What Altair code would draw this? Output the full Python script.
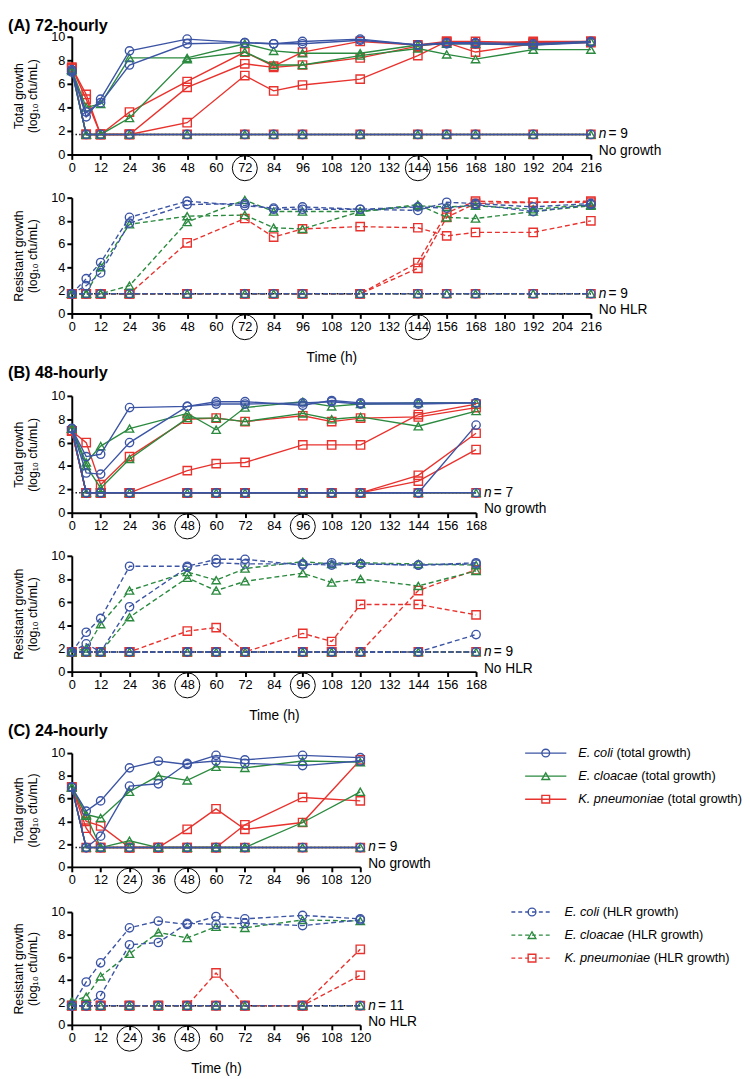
import altair as alt
import pandas as pd

# ---------------------------------------------------------------- data
L = 1.7  # limit of detection (log10 cfu/mL)

SPECIES = ["E. coli", "E. cloacae", "K. pneumoniae"]
COLORS = {"E. coli": "#3b54a4", "E. cloacae": "#2b8a3f", "K. pneumoniae": "#e8322d"}
SHAPES = {"E. coli": "circle", "E. cloacae": "triangle-up", "K. pneumoniae": "square"}
DRAW_ORDER = ["K. pneumoniae", "E. cloacae", "E. coli"]

# ---- (A) 72-hourly
A_TIMES = [0, 6, 12, 24, 48, 72, 84, 96, 120, 144, 156, 168, 192, 216]
A_DOSES = [72, 144]
A_TOTAL = {
    "E. coli": [
        [7.2, 3.2, 4.7, 8.8, 9.8, 9.5, 9.4, 9.6, 9.8, 9.3, 9.5, 9.5, 9.4, 9.6],
        [7.0, 3.6, 4.4, 7.6, 9.4, 9.5, 9.4, 9.4, 9.7, 9.3, 9.4, 9.4, 9.3, 9.5],
        [7.1, L, L, L, L, L, L, L, L, L, L, L, L, L],
    ],
    "E. cloacae": [
        [7.2, 4.0, 4.3, 8.2, 8.2, 9.4, 8.8, 8.6, 8.6, 9.3, 9.4, 9.4, 9.3, 9.6],
        [7.2, L, L, 3.1, 8.1, 8.7, 7.6, 7.6, 8.4, 9.0, 8.5, 8.1, 8.9, 8.9],
        [7.1, L, L, L, L, L, L, L, L, L, L, L, L, L],
    ],
    "K. pneumoniae": [
        [7.4, 5.1, L, 3.6, 6.2, 8.7, 7.5, 8.7, 9.6, 9.3, 9.6, 9.6, 9.5, 9.6],
        [7.4, 4.7, L, L, 5.7, 7.7, 7.4, 7.6, 8.2, 9.2, 9.5, 8.7, 9.4, 9.5],
        [7.3, L, L, L, 2.7, 6.7, 5.4, 5.9, 6.4, 8.4, 9.6, 9.4, 9.6, 9.6],
        [7.3, L, L, L, L, L, L, L, L, L, L, L, L, L],
    ],
}
A_HLR = {
    "E. coli": [
        [L, 3.0, 4.4, 8.3, 9.7, 9.3, 9.1, 9.2, 9.0, 8.9, 9.6, 9.5, 9.2, 9.5],
        [L, 2.4, 3.5, 7.8, 9.4, 9.5, 9.0, 9.0, 9.0, 9.2, 9.1, 9.4, 8.8, 9.4],
        [L, L, L, L, L, L, L, L, L, L, L, L, L, L],
    ],
    "E. cloacae": [
        [L, L, 4.0, 7.7, 8.4, 8.5, 7.4, 7.3, 8.8, 9.4, 8.3, 8.2, 8.8, 9.3],
        [L, L, L, 2.4, 7.9, 9.8, 8.8, 8.8, 8.8, 9.3, 9.2, 9.3, 9.0, 9.4],
        [L, L, L, L, L, L, L, L, L, L, L, L, L, L],
    ],
    "K. pneumoniae": [
        [L, L, L, L, 6.1, 8.2, 6.6, 7.3, 7.5, 7.4, 6.7, 7.0, 7.0, 8.0],
        [L, L, L, L, L, L, L, L, L, 4.4, 8.7, 9.7, 9.6, 9.6],
        [L, L, L, L, L, L, L, L, L, 3.9, 8.3, 9.5, 9.6, 9.7],
        [L, L, L, L, L, L, L, L, L, L, L, L, L, L],
    ],
}

# ---- (B) 48-hourly
B_TIMES = [0, 6, 12, 24, 48, 60, 72, 96, 108, 120, 144, 168]
B_DOSES = [48, 96]
B_TOTAL = {
    "E. coli": [
        [7.2, 4.8, 5.0, 9.0, 9.1, 9.5, 9.5, 9.2, 9.6, 9.4, 9.4, 9.4],
        [7.2, 3.4, 3.3, 6.0, 9.1, 9.3, 9.3, 9.4, 9.5, 9.3, 9.3, 9.4],
        [7.2, L, L, L, L, L, L, L, L, L, L, 7.5],
        [7.2, L, L, L, L, L, L, L, L, L, L, L],
    ],
    "E. cloacae": [
        [7.2, 4.3, 5.7, 7.2, 8.5, 7.1, 9.0, 9.5, 9.1, 9.3, 9.4, 9.4],
        [7.2, 4.0, 2.1, 4.6, 8.1, 8.1, 7.8, 8.5, 8.0, 8.2, 7.4, 8.7],
        [7.2, L, L, L, L, L, L, L, L, L, L, L],
    ],
    "K. pneumoniae": [
        [7.0, 6.0, 2.4, 4.8, 8.0, 8.1, 7.8, 8.3, 7.8, 8.1, 8.2, 9.0],
        [7.0, L, L, L, 3.6, 4.2, 4.3, 5.8, 5.8, 5.8, 8.4, 9.3],
        [7.0, L, L, L, L, L, L, L, L, L, 3.2, 6.8],
        [7.0, L, L, L, L, L, L, L, L, L, 2.7, 5.4],
        [7.0, L, L, L, L, L, L, L, L, L, L, L],
    ],
}
B_HLR = {
    "E. coli": [
        [L, 3.4, 4.6, 9.1, 9.1, 9.7, 9.7, 9.2, 9.4, 9.3, 9.2, 9.4],
        [L, 2.4, L, 5.6, 9.0, 9.4, 9.3, 9.3, 9.2, 9.3, 9.2, 9.3],
        [L, L, L, L, L, L, L, L, L, L, L, 3.2],
        [L, L, L, L, L, L, L, L, L, L, L, L],
    ],
    "E. cloacae": [
        [L, 2.0, 4.1, 7.0, 8.6, 7.9, 8.9, 9.5, 9.3, 9.4, 9.3, 9.2],
        [L, L, L, 4.7, 8.1, 7.0, 7.8, 8.5, 7.7, 8.0, 7.4, 8.7],
        [L, L, L, L, L, L, L, L, L, L, L, L],
    ],
    "K. pneumoniae": [
        [L, L, L, L, 3.5, 3.8, L, 3.3, 2.6, 5.8, 5.8, 4.9],
        [L, L, L, L, L, L, L, L, L, L, 7.0, 8.8],
        [L, L, L, L, L, L, L, L, L, L, L, L],
    ],
}

# ---- (C) 24-hourly
C_TIMES = [0, 6, 12, 24, 36, 48, 60, 72, 96, 120]
C_DOSES = [24, 48]
C_TOTAL = {
    "E. coli": [
        [7.0, 4.9, 5.8, 8.7, 9.3, 9.0, 9.8, 9.4, 9.8, 9.6],
        [7.0, L, 2.7, 7.1, 7.3, 9.1, 9.3, 9.1, 8.9, 9.3],
        [7.0, L, L, L, L, L, L, L, L, L],
    ],
    "E. cloacae": [
        [7.0, 4.6, 4.3, 6.6, 8.0, 7.6, 8.8, 8.7, 9.3, 9.2],
        [7.0, 4.5, L, 2.3, L, L, L, L, 3.9, 6.6],
        [7.0, L, L, L, L, L, L, L, L, L],
    ],
    "K. pneumoniae": [
        [7.0, 4.0, 3.6, L, L, 3.3, 5.1, 3.3, 3.9, 9.4],
        [7.0, 3.4, L, L, L, L, L, 3.7, 6.1, 5.8],
        [7.0, L, L, L, L, L, L, L, L, L],
    ],
}
C_HLR = {
    "E. coli": [
        [L, 3.8, 5.5, 8.6, 9.2, 8.9, 9.6, 9.4, 9.7, 9.4],
        [L, L, 2.6, 7.1, 7.3, 9.0, 8.9, 9.0, 8.8, 9.3],
        [L, L, L, L, L, L, L, L, L, L],
    ],
    "E. cloacae": [
        [2.1, 2.5, 4.3, 6.3, 8.2, 7.7, 8.7, 8.6, 9.3, 9.2],
        [L, L, L, L, L, L, L, L, L, L],
    ],
    "K. pneumoniae": [
        [L, L, L, L, L, L, 4.6, L, L, 6.7],
        [L, L, L, L, L, L, L, L, L, 4.4],
        [L, L, L, L, L, L, L, L, L, L],
    ],
}

N_NONE = {"A_total": 9, "A_hlr": 9, "B_total": 7, "B_hlr": 9, "C_total": 9, "C_hlr": 11}
SECTION_TITLES = ["(A) 72-hourly", "(B) 48-hourly", "(C) 24-hourly"]

# ---------------------------------------------------------------- style
FONT = "Liberation Sans"
PX_PER_HOUR = 2.45
LINE_W = 1.4
MARK_SIZE = 72
DASH = [5, 3]

# Helvetica/Arial advance widths (per 1000 em) used to place the legend suffix
CHAR_W = {" ": 278, ".": 278, "E": 667, "K": 667, "a": 556, "c": 500, "e": 556,
          "i": 222, "l": 222, "m": 833, "n": 556, "o": 556, "p": 556, "u": 556}


def text_px(s, size):
    return sum(CHAR_W.get(ch, 556) for ch in s) * size / 1000.0


def long_frame(times, groups):
    rows = []
    for sp, series_list in groups.items():
        for k, series in enumerate(series_list):
            for t, v in zip(times, series):
                rows.append({"species": sp, "isolate": f"{sp} #{k + 1}", "time": t, "value": v})
    return pd.DataFrame(rows)


def panel(times, groups, doses, height, kind, n_none, show_time, title=None, title_gap=31):
    tmax = times[-1]
    width = round(tmax * PX_PER_HOUR)
    df = long_frame(times, groups)
    ytitle = (["Total growth", "(log₁₀ cfu/mL)"] if kind == "total"
              else ["Resistant growth", "(log₁₀ cfu/mL)"])
    none_label = "No growth" if kind == "total" else "No HLR"
    dash_kw = {"strokeDash": DASH} if kind == "hlr" else {}

    xaxis = alt.Axis(values=list(range(0, tmax + 1, 12)), labelFlush=False,
                     labelOverlap=False, title="Time (h)" if show_time else None)
    yaxis = alt.Axis(values=[0, 2, 4, 6, 8, 10], title=ytitle)
    xscale = alt.Scale(domain=[0, tmax], nice=False, zero=True)
    yscale = alt.Scale(domain=[0, 10], nice=False)

    def xe(field):
        return alt.X(f"{field}:Q", scale=xscale, axis=xaxis)

    def ye(field):
        return alt.Y(f"{field}:Q", scale=yscale, axis=yaxis)

    layers = []
    lod_df = pd.DataFrame({"t0": [0], "t1": [tmax], "lod": [L]})
    layers.append(alt.Chart(lod_df).mark_rule(color="black", strokeWidth=1.4,
                                               strokeDash=[1.4, 2.4]).encode(
        x=xe("t0"), x2="t1:Q", y=ye("lod")))

    for sp in DRAW_ORDER:
        sub = df[df["species"] == sp]
        layers.append(alt.Chart(sub).mark_line(color=COLORS[sp], strokeWidth=LINE_W, **dash_kw).encode(
            x=xe("time"), y=ye("value"), detail="isolate:N"))
        layers.append(alt.Chart(sub).mark_point(shape=SHAPES[sp], color=COLORS[sp], filled=False,
                                                size=MARK_SIZE, strokeWidth=LINE_W, opacity=1).encode(
            x=xe("time"), y=ye("value")))

    end_df = pd.DataFrame({"time": [tmax], "value": [L]})
    txt = dict(align="left", baseline="middle", font=FONT, fontSize=14, color="black")
    layers.append(alt.Chart(end_df).mark_text(text="n", fontStyle="italic", dx=8, **txt).encode(
        x=xe("time"), y=ye("value")))
    layers.append(alt.Chart(end_df).mark_text(text=f"= {n_none}", dx=18, **txt).encode(
        x=xe("time"), y=ye("value")))
    layers.append(alt.Chart(end_df).mark_text(text=none_label, dx=8, dy=17, **txt).encode(
        x=xe("time"), y=ye("value")))

    dose_df = pd.DataFrame({"dose": doses})
    layers.append(alt.Chart(dose_df).mark_point(shape="circle", filled=False, color="black",
                                                size=650, strokeWidth=1, opacity=1).encode(
        x=xe("dose"), y=alt.value(height + 14)))

    if title is not None:
        tdf = pd.DataFrame({"label": [title]})
        layers.append(alt.Chart(tdf).mark_text(align="left", baseline="top", font=FONT, fontSize=16.5,
                                               fontWeight="bold", color="black").encode(
            x=alt.value(-65), y=alt.value(-title_gap), text="label:N"))

    return alt.layer(*layers).properties(width=width, height=height)


LEG_FS = 13


def legend_chart(kind):
    suffix = "(total growth)" if kind == "total" else "(HLR growth)"
    df = pd.DataFrame({"species": SPECIES})
    y = alt.Y("species:N", scale=alt.Scale(type="point", domain=SPECIES, padding=0), axis=None)
    color = alt.Color("species:N", scale=alt.Scale(domain=SPECIES, range=[COLORS[s] for s in SPECIES]),
                      legend=None)
    shape = alt.Shape("species:N", scale=alt.Scale(domain=SPECIES, range=[SHAPES[s] for s in SPECIES]),
                      legend=None)
    dash_kw = {"strokeDash": [4, 3]} if kind == "hlr" else {}
    base = alt.Chart(df)
    layers = [
        base.mark_rule(strokeWidth=LINE_W, **dash_kw).encode(x=alt.value(0), x2=alt.value(42), y=y, color=color),
        base.mark_point(filled=False, size=62, strokeWidth=LINE_W, opacity=1).encode(
            x=alt.value(21), y=y, color=color, shape=shape),
        base.mark_text(align="left", baseline="middle", font=FONT, fontSize=LEG_FS, fontStyle="italic",
                       color="black").encode(x=alt.value(54), y=y, text="species:N"),
    ]
    for sp in SPECIES:
        xpos = 54 + text_px(sp + " ", LEG_FS)
        layers.append(base.transform_filter(alt.datum.species == sp).mark_text(
            text=suffix, align="left", baseline="middle", font=FONT, fontSize=LEG_FS, color="black").encode(
            x=alt.value(xpos), y=y))
    return alt.layer(*layers).properties(width=180, height=47)


A_top = panel(A_TIMES, A_TOTAL, A_DOSES, 120, "total", N_NONE["A_total"], False,
              SECTION_TITLES[0], title_gap=19)
A_bot = panel(A_TIMES, A_HLR, A_DOSES, 118, "hlr", N_NONE["A_hlr"], True)
B_top = panel(B_TIMES, B_TOTAL, B_DOSES, 119, "total", N_NONE["B_total"], False,
              SECTION_TITLES[1], title_gap=31)
B_bot = panel(B_TIMES, B_HLR, B_DOSES, 118, "hlr", N_NONE["B_hlr"], True)
C_top = panel(C_TIMES, C_TOTAL, C_DOSES, 116, "total", N_NONE["C_total"], False,
              SECTION_TITLES[2], title_gap=30)
C_bot = panel(C_TIMES, C_HLR, C_DOSES, 115, "hlr", N_NONE["C_hlr"], True)

secA = alt.vconcat(A_top, A_bot, spacing=9)
secB = alt.vconcat(B_top, B_bot, spacing=9)
rowC1 = alt.hconcat(C_top, legend_chart("total"), spacing=95)
rowC2 = alt.hconcat(C_bot, legend_chart("hlr"), spacing=95)
secC = alt.vconcat(rowC1, rowC2, spacing=10)

chart = alt.vconcat(secA, secB, secC, spacing=1).properties(
    padding={"left": 0, "top": 0, "right": 0, "bottom": 0}
).configure(font=FONT).configure_view(strokeWidth=0).configure_axis(
    domainColor="black", domainWidth=2, tickColor="black", tickWidth=2, tickSize=5,
    labelColor="black", labelFont=FONT, labelFontSize=13, labelPadding=2,
    titleFont=FONT, titleFontWeight="normal", titleColor="black", grid=False
).configure_axisY(titleFontSize=12.5, titleLineHeight=15, titlePadding=11
).configure_axisX(titleFontSize=14, titlePadding=18)

chart.save("out.html", embed_options={"renderer": "svg", "actions": False})
